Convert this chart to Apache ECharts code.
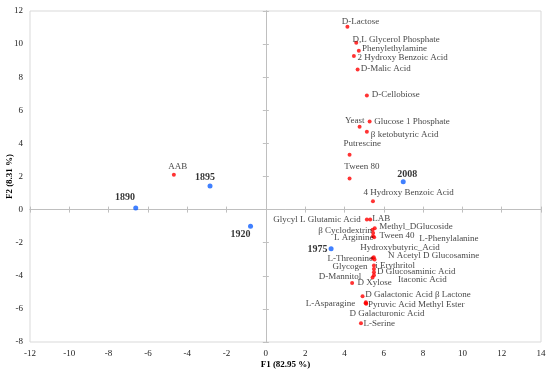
<!DOCTYPE html>
<html><head><meta charset="utf-8">
<script src="https://cdn.jsdelivr.net/npm/echarts@6/dist/echarts.min.js"></script>
<style>html,body{margin:0;padding:0;background:#fff}#c{width:550px;height:373px}</style>
</head><body><div id="c"></div><script>
// ---- data ----
const varNames = ['D-Lactose','D,L Glycerol Phosphate','Phenylethylamine','2 Hydroxy Benzoic Acid','D-Malic Acid',
  'D-Cellobiose','Glucose 1 Phosphate','Yeast','\u03b2 ketobutyric Acid','Putrescine','Tween 80','4 Hydroxy Benzoic Acid',
  'Glycyl L Glutamic Acid','LAB','Methyl_DGlucoside','\u03b2 Cyclodextrin','Tween 40','L Arginine','L-Phenylalanine',
  'Hydroxybutyric_Acid','L-Threonine','N Acetyl D Glucosamine','i Erythritol','Glycogen','D Glucosaminic Acid',
  'D-Mannitol','Itaconic Acid','D Xylose','D Galactonic Acid \u03b2 Lactone','Pyruvic Acid Methyl Ester','L-Asparagine',
  'D Galacturonic Acid','L-Serine','AAB'];
const varF1 = [4.15,4.60,4.73,4.48,4.67,5.14,5.28,4.77,5.14,4.26,4.26,5.45,
  5.14,5.31,5.54,5.43,5.46,5.45,5.51,5.49,5.43,5.53,5.50,5.50,5.50,5.43,5.50,4.39,4.92,5.09,5.11,5.08,4.84,-4.68];
const varF2 = [11.05,10.08,9.60,9.28,8.47,6.90,5.33,5.00,4.70,3.31,1.88,0.51,
  -0.60,-0.60,-1.13,-1.22,-1.41,-1.61,-1.67,-2.88,-2.94,-3.02,-3.38,-3.59,-3.79,-4.11,-3.97,-4.43,-5.24,-5.60,-5.69,-5.66,-6.87,2.10];
const yearNames = ['1890','1895','1920','1975','2008'];
const yearF1 = [-6.62,-2.84,-0.78,3.32,6.99];
const yearF2 = [0.10,1.43,-1.00,-2.36,1.68];
const xTitle = 'F1 (82.95 %)';
const yTitle = 'F2 (8.31 %)';

// ---- label layout (align, dx, dy relative to point) ----
const varLabelPos = [['left',-5.6,-5],['left',-3.7,-3.4],['left',3.3,-1.7],['left',3.6,1.3],['left',3,-0.6],
  ['left',5,-0.3],['left',4.7,0],['center',-4.8,-6.7],['left',4,2.6],['left',-6,-10.7],['left',-5.3,-11.6],['left',-9.4,-8.3],
  ['right',-6,0.4],['left',2,-0.6],['left',4.5,-2],['right',-0.6,0.8],['left',6.3,3],['right',0.6,1],['left',45,1],
  ['left',-13.5,-10],['right',0.4,0.3],['left',13.4,-3.6],['left',1.3,0],['right',-6.4,-2.4],['left',3,-0.3],
  ['right',-11.3,-1.3],['left',24,4],['left',5.3,-0.7],['left',2.7,-1.3],['left',2,2.7],['right',-11,-0.5],
  ['left',-16.2,10],['left',2.6,0.7],['center',3.8,-8]];
const yearLabelPos = [['center',-10.7,-10.7],['center',-5,-9],['center',-10,8],['right',-3.7,1],['center',4,-7.7]];

const FONT = "'Liberation Serif','Times New Roman',serif";
function build(names, xs, ys, pos){
  return names.map((n,i)=>({name:n, value:[xs[i],ys[i]],
    label:{align:pos[i][0], offset:[pos[i][1],pos[i][2]]}}));
}
const chart = echarts.init(document.getElementById('c'), null, {renderer:'canvas'});
const XMIN=-12, XMAX=14, YMIN=-8, YMAX=12, STEP=2;
const zeroLine = {show:true, onZero:true, onZeroAxisIndex:0, lineStyle:{color:'#bfbfbf', width:1}};
chart.setOption({
  animation:false,
  grid:{left:30, top:11, width:511, height:331, outerBoundsMode:'none', containLabel:false,
        show:true, borderColor:'#d9d9d9', borderWidth:1, backgroundColor:'transparent'},
  xAxis:[
    {type:'value', min:XMIN, max:XMAX, interval:STEP, position:'bottom', name:xTitle, nameLocation:'middle', nameGap:18,
     nameMoveOverlap:false,
     nameTextStyle:{fontFamily:FONT, fontWeight:'bold', fontSize:9, color:'#000'},
     axisLine:{show:false, onZero:false}, axisTick:{show:false}, splitLine:{show:false},
     axisLabel:{fontFamily:FONT, fontSize:9, color:'#222', margin:7}},
    {type:'value', min:XMIN, max:XMAX, interval:STEP, position:'bottom', axisLine:zeroLine,
     axisTick:{show:true, length:3, inside:false, lineStyle:{color:'#bfbfbf'}}, axisLabel:{show:false}, splitLine:{show:false}},
    {type:'value', min:XMIN, max:XMAX, interval:STEP, position:'bottom', axisLine:zeroLine,
     axisTick:{show:true, length:3, inside:true, lineStyle:{color:'#bfbfbf'}}, axisLabel:{show:false}, splitLine:{show:false}}
  ],
  yAxis:[
    {type:'value', min:YMIN, max:YMAX, interval:STEP, position:'left', name:yTitle, nameLocation:'middle', nameGap:16,
     nameMoveOverlap:false,
     nameTextStyle:{fontFamily:FONT, fontWeight:'bold', fontSize:9, color:'#000'},
     axisLine:{show:false, onZero:false}, axisTick:{show:false}, splitLine:{show:false},
     axisLabel:{fontFamily:FONT, fontSize:9, color:'#222', margin:7}},
    {type:'value', min:YMIN, max:YMAX, interval:STEP, position:'left', axisLine:zeroLine,
     axisTick:{show:true, length:3, inside:false, lineStyle:{color:'#bfbfbf'}}, axisLabel:{show:false}, splitLine:{show:false}},
    {type:'value', min:YMIN, max:YMAX, interval:STEP, position:'left', axisLine:zeroLine,
     axisTick:{show:true, length:3, inside:true, lineStyle:{color:'#bfbfbf'}}, axisLabel:{show:false}, splitLine:{show:false}}
  ],
  series:[
    {type:'scatter', xAxisIndex:0, yAxisIndex:0, symbolSize:4, silent:true, itemStyle:{color:'#ff0000'},
     label:{show:true, position:'inside', verticalAlign:'middle', formatter:'{b}', fontFamily:FONT, fontSize:9, color:'#111'},
     data:build(varNames, varF1, varF2, varLabelPos)},
    {type:'scatter', xAxisIndex:0, yAxisIndex:0, symbolSize:5, silent:true, itemStyle:{color:'#1060ff'},
     label:{show:true, position:'inside', verticalAlign:'middle', formatter:'{b}', fontFamily:FONT, fontSize:10, fontWeight:'bold', color:'#000'},
     data:build(yearNames, yearF1, yearF2, yearLabelPos)}
  ]
});
</script></body></html>
